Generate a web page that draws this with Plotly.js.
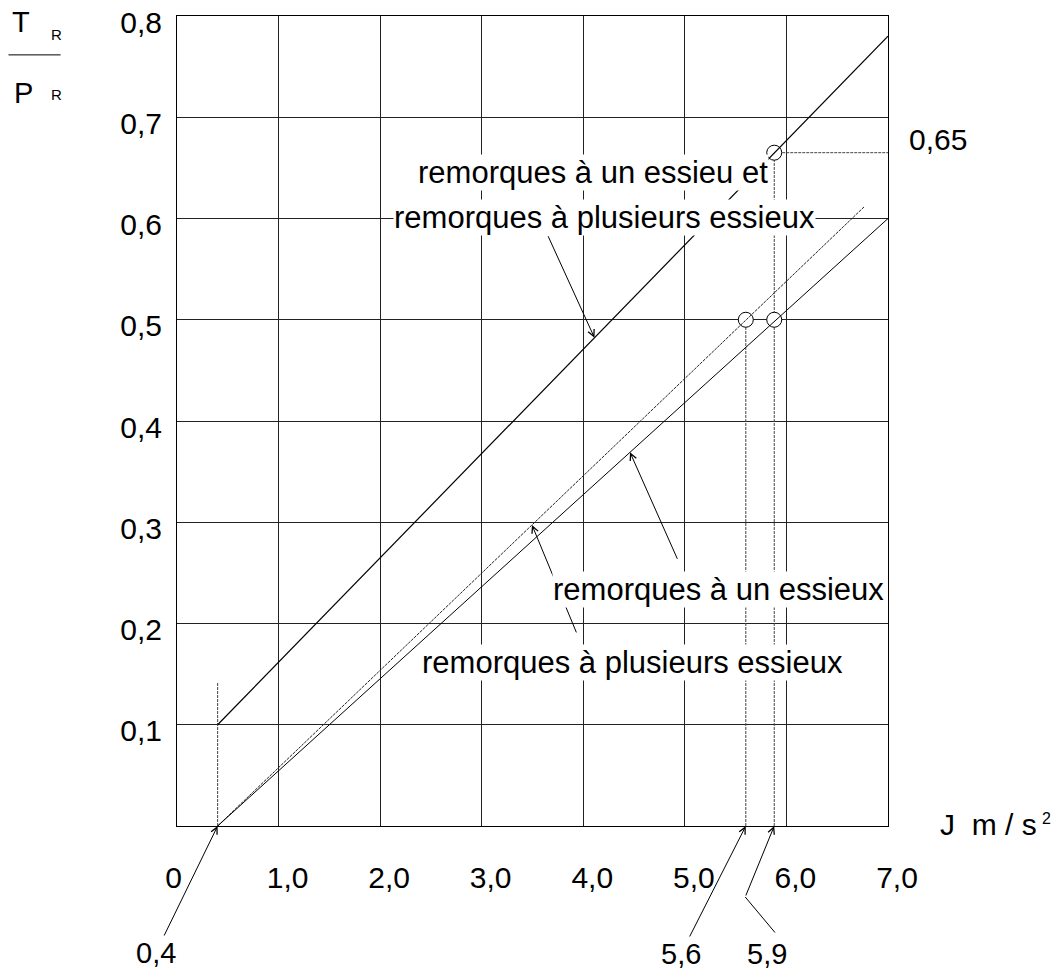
<!DOCTYPE html>
<html>
<head>
<meta charset="utf-8">
<script src="https://cdn.plot.ly/plotly-3.0.1.min.js"></script>
<style>html,body{margin:0;padding:0;background:#fff;}#chart{width:1061px;height:971px;}</style>
</head>
<body>
<div id="chart"></div>
<script>
// ---- data ----
const xTickVals = [0, 1, 2, 3, 4, 5, 6, 7];
const xTickText = ['0\u00a0\u00a0\u00a0', '1,0', '2,0', '3,0', '4,0', '5,0', '6,0', '7,0'];
const yTickVals = [0.1, 0.2, 0.3, 0.4, 0.5, 0.6, 0.7, 0.8];
const yTickText = ['0,1', '0,2', '0,3', '0,4', '0,5', '0,6', '0,7', '0,8'];

// remorques à un essieu et remorques à plusieurs essieux
const topLineX = [0.4, 7.0];
const topLineY = [0.1, 0.78];
// remorques à plusieurs essieux
const multiLineX = [0.4, 6.77];
const multiLineY = [0.0, 0.612];
// remorques à un essieux
const singleLineX = [0.4, 7.0];
const singleLineY = [0.0, 0.6];

// marked points
const circleX = [5.6, 5.88, 5.88];
const circleY = [0.5, 0.5, 0.665];

// reference (dashed) lines
const refVX = [0.4, 5.6, 5.88];
const refVTop = [0.142, 0.5, 0.665];
const refHY = 0.665;
const refHX = [5.88, 7.0];

const FONT = 'Liberation Sans, Arial, Helvetica, sans-serif';

const traces = [];
// dashed verticals
refVX.forEach((x, i) => {
  traces.push({x: [x, x], y: [0, refVTop[i]], mode: 'lines', hoverinfo: 'skip',
    line: {color: '#444', width: 1, dash: '3px,1px'}, showlegend: false});
});
traces.push({x: refHX, y: [refHY, refHY], mode: 'lines', hoverinfo: 'skip',
  line: {color: '#444', width: 1, dash: '3px,1px'}, showlegend: false});
// circles
traces.push({x: circleX, y: circleY, mode: 'markers', showlegend: false,
  marker: {symbol: 'circle', size: 15, color: '#fff', line: {color: '#000', width: 1}}});
// lines
traces.push({x: topLineX, y: topLineY, mode: 'lines', line: {color: '#000', width: 1.2}, showlegend: false});
traces.push({x: multiLineX, y: multiLineY, mode: 'lines', line: {color: '#222', width: 1, dash: '3px,1px'}, showlegend: false});
traces.push({x: singleLineX, y: singleLineY, mode: 'lines', line: {color: '#000', width: 1}, showlegend: false});

function lineAt(xs, ys, x) { return ys[0] + (x - xs[0]) * (ys[1] - ys[0]) / (xs[1] - xs[0]); }

const txt = (text, x, y, size, extra) => Object.assign({
  text: text, x: x, y: y, xref: 'x', yref: 'y', showarrow: false,
  font: {family: FONT, size: size, color: '#000'}, xanchor: 'center', yanchor: 'middle'
}, extra || {});

const arrow = (x, y, ax, ay, head, extra) => Object.assign({
  text: '', x: x, y: y, xref: 'x', yref: 'y', showarrow: true, ax: ax, ay: ay,
  arrowhead: head, arrowsize: 1.3, arrowwidth: 1, arrowcolor: '#000', standoff: 0, startstandoff: 0
}, extra || {});

const aText = 31;
const annotations = [
  // arrows to curves
  arrow(4.11, lineAt(topLineX, topLineY, 4.11), -47, -103, 5),
  arrow(3.495, lineAt(multiLineX, multiLineY, 3.495), 45, 109, 5),
  txt('remorques à plusieurs essieux', 4.488, 0.1615, aText, {bgcolor: '#fff', borderpad: 0}),
  arrow(4.46, lineAt(singleLineX, singleLineY, 4.46), 48, 108, 5),
  txt('remorques à un essieux', 5.335, 0.2335, aText, {bgcolor: '#fff', borderpad: 0}),
  txt('remorques à un essieu et', 4.10, 0.645, aText, {bgcolor: '#fff', borderpad: 0}),
  txt('remorques à plusieurs essieux', 4.213, 0.601, aText, {bgcolor: '#fff', borderpad: 0}),
  // value labels under axis
  Object.assign(arrow(0.4, 0, -62, 127, 5), {text: '0,4', font: {family: FONT, size: 29, color: '#000'}}),
  Object.assign(arrow(5.6, 0, -65, 128, 5), {text: '5,6', font: {family: FONT, size: 29, color: '#000'}}),
  arrow(5.88, 0, -29, 71, 5),
  arrow(5.88, 0, 31, 37, 0, {xshift: -29, yshift: -71}),
  txt('5,9', 5.88, 0, 29, {xshift: -7, yshift: -128}),
  txt('0,65', 7.0, refHY, 30, {xshift: 50, yshift: 13}),
  // axis titles
  {text: 'J\u00a0\u00a0m / s', xref: 'paper', yref: 'paper', x: 1.0703, y: 0.002, xanchor: 'left', yanchor: 'middle',
   showarrow: false, font: {family: FONT, size: 30, color: '#000'}},
  {text: '2', xref: 'paper', yref: 'paper', x: 1.2223, y: 0.009, xanchor: 'center', yanchor: 'middle',
   showarrow: false, font: {family: FONT, size: 16, color: '#000'}},
  {text: 'T', xref: 'paper', yref: 'paper', x: -0.219, y: 0.992, xanchor: 'center', yanchor: 'middle',
   showarrow: false, font: {family: FONT, size: 29, color: '#000'}},
  {text: 'R', xref: 'paper', yref: 'paper', x: -0.169, y: 0.977, xanchor: 'center', yanchor: 'middle',
   showarrow: false, font: {family: FONT, size: 15, color: '#000'}},
  {text: 'P', xref: 'paper', yref: 'paper', x: -0.2165, y: 0.9053, xanchor: 'center', yanchor: 'middle',
   showarrow: false, font: {family: FONT, size: 29, color: '#000'}},
  {text: 'R', xref: 'paper', yref: 'paper', x: -0.169, y: 0.9029, xanchor: 'center', yanchor: 'middle',
   showarrow: false, font: {family: FONT, size: 15, color: '#000'}}
];

const shapes = [
  {type: 'line', xref: 'paper', yref: 'paper', x0: -0.237, x1: -0.1637, y0: 0.952, y1: 0.952,
   line: {color: '#000', width: 1}}
];

const layout = {
  width: 1061, height: 971,
  margin: {l: 177, r: 173, t: 16, b: 145, pad: 0},
  paper_bgcolor: '#fff', plot_bgcolor: '#fff',
  showlegend: false,
  font: {family: FONT, size: 29, color: '#000'},
  xaxis: {range: [0, 7], tickvals: xTickVals, ticktext: xTickText, ticks: '',
    showgrid: true, gridcolor: '#222', gridwidth: 1, zeroline: false,
    showline: true, mirror: true, linecolor: '#000', linewidth: 1,
    tickfont: {family: FONT, size: 30, color: '#000'}, ticklabelshift: 9, ticklabelstandoff: 25,
    ticklabeloverflow: 'allow', fixedrange: true},
  yaxis: {range: [0, 0.8], tickvals: yTickVals, ticktext: yTickText, ticks: '',
    showgrid: true, gridcolor: '#222', gridwidth: 1, zeroline: false,
    showline: true, mirror: true, linecolor: '#000', linewidth: 1,
    tickfont: {family: FONT, size: 30, color: '#000'}, ticklabelshift: 6, ticklabelstandoff: 8,
    ticklabeloverflow: 'allow', fixedrange: true},
  annotations: annotations,
  shapes: shapes
};

Plotly.newPlot('chart', traces, layout, {displayModeBar: false, staticPlot: true});
</script>
</body>
</html>
